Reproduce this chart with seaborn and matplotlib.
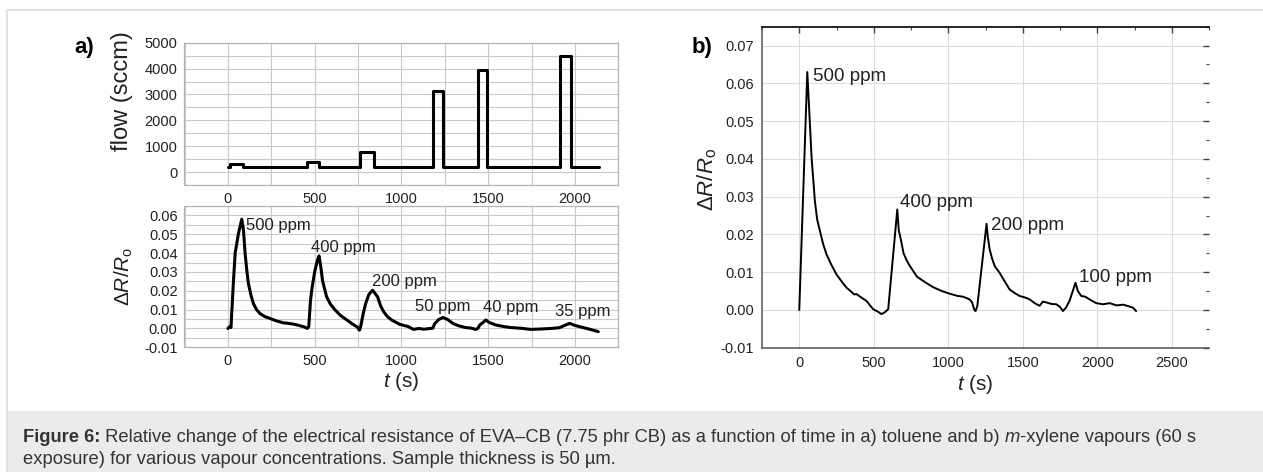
import matplotlib
matplotlib.use("Agg")
import matplotlib.pyplot as plt
from matplotlib.ticker import MultipleLocator, FormatStrFormatter
from matplotlib.lines import Line2D
from matplotlib.patches import Rectangle
import pandas as pd
import seaborn as sns

flow_t = [0, 12, 87, 457, 527, 763, 840, 1182, 1241, 1441, 1495, 1912, 1975, 2140]
flow_sccm = [200, 330, 200, 390, 200, 780, 200, 3140, 200, 3930, 200, 4500, 200, 200]

# toluene response, panel a bottom
tol_t = [0, 8, 18, 22, 32, 42, 60, 80, 90, 99, 110, 118, 132, 147, 165, 185, 215, 243,
         280, 320, 350, 378, 410, 440, 458, 466, 476, 484, 500, 515, 525, 535, 545, 557,
         569, 590, 616, 650, 687, 720, 745, 758, 765, 780, 793, 812, 833, 845, 863, 880,
         898, 920, 945, 990, 1039, 1069, 1100, 1130, 1165, 1180, 1192, 1215, 1240, 1265,
         1298, 1330, 1369, 1400, 1428, 1440, 1451, 1470, 1486, 1505, 1545, 1590, 1627,
         1690, 1745, 1800, 1863, 1910, 1940, 1969, 2000, 2028, 2080, 2134]
tol_dr = [0.0, 0.0008, 0.0005, 0.008, 0.025, 0.040, 0.050, 0.058, 0.052, 0.040, 0.030,
          0.024, 0.018, 0.0132, 0.010, 0.0079, 0.0062, 0.0053, 0.0040, 0.0030, 0.0027,
          0.0023, 0.0016, 0.0008, 0.0, 0.0010, 0.015, 0.021, 0.030, 0.036, 0.0385, 0.033,
          0.0256, 0.021, 0.0168, 0.013, 0.010, 0.0068, 0.0044, 0.0022, 0.0008, -0.0009,
          0.001, 0.008, 0.013, 0.018, 0.0203, 0.019, 0.0167, 0.012, 0.0088, 0.0062, 0.0044,
          0.0022, 0.0010, -0.0005, 0.0, -0.0004, 0.0, 0.0001, 0.0026, 0.0048, 0.0058,
          0.0048, 0.0026, 0.0014, 0.0005, 0.0002, -0.0005, 0.0, 0.0018, 0.0032, 0.0045,
          0.0032, 0.0018, 0.0010, 0.0005, 0.0001, -0.0005, -0.0003, 0.0, 0.0004, 0.0016,
          0.0027, 0.0016, 0.0009, -0.0003, -0.0017]
tol_labels = ["500 ppm", "400 ppm", "200 ppm", "50 ppm", "40 ppm", "35 ppm"]
tol_label_t = [105, 480, 829, 1079, 1469, 1882]
tol_label_dr = [0.0547, 0.0432, 0.0250, 0.0118, 0.0111, 0.0088]

# m-xylene response, panel b
xyl_t = [0, 54, 68, 83, 95, 105, 120, 139, 160, 183, 215, 250, 285, 317, 350, 370, 384,
         420, 451, 475, 496, 525, 552, 575, 597, 658, 668, 677, 700, 720, 743, 790, 850,
         900, 957, 1010, 1063, 1100, 1143, 1160, 1175, 1183, 1195, 1257, 1265, 1278, 1295,
         1312, 1345, 1380, 1412, 1445, 1479, 1515, 1546, 1580, 1613, 1635, 1658, 1690,
         1725, 1750, 1770, 1790, 1814, 1840, 1854, 1870, 1892, 1920, 1948, 1993, 2040,
         2083, 2130, 2175, 2208, 2240, 2261]
xyl_dr = [0.0, 0.0630, 0.052, 0.0402, 0.034, 0.0288, 0.024, 0.0209, 0.0175, 0.0147,
          0.012, 0.0094, 0.0075, 0.0059, 0.0048, 0.0041, 0.0042, 0.0032, 0.0024, 0.0012,
          0.0002, -0.0004, -0.0011, -0.0006, 0.0002, 0.0266, 0.021, 0.0196, 0.015, 0.0132,
          0.0116, 0.0088, 0.0072, 0.0060, 0.0050, 0.0043, 0.0037, 0.0035, 0.0028, 0.0020,
          0.0, -0.0003, 0.0010, 0.0228, 0.0195, 0.0160, 0.0135, 0.0116, 0.0098, 0.0075,
          0.0054, 0.0045, 0.0037, 0.0033, 0.0028, 0.0018, 0.0011, 0.0022, 0.0020, 0.0016,
          0.0015, 0.0008, -0.0003, 0.0006, 0.0024, 0.0055, 0.0072, 0.0050, 0.0037, 0.0035,
          0.0028, 0.0018, 0.0015, 0.0018, 0.0012, 0.0014, 0.0010, 0.0006, -0.0003]
xyl_labels = ["500 ppm", "400 ppm", "200 ppm", "100 ppm"]
xyl_label_t = [94, 676, 1289, 1875]
xyl_label_dr = [0.0618, 0.0284, 0.0224, 0.0087]

caption_1 = [("Figure 6:", "bold", "normal"),
             (" Relative change of the electrical resistance of EVA\u2013CB (7.75 phr CB) as a "
              "function of time in a) toluene and b) ", "normal", "normal"),
             ("m", "normal", "italic"),
             ("-xylene vapours (60 s", "normal", "normal")]
caption_2 = "exposure) for various vapour concentrations. Sample thickness is 50 \u00b5m."

sns.set_theme(style="white")
FONT = "Liberation Sans"
plt.rcParams["font.family"] = [FONT, "DejaVu Sans"]
plt.rcParams["mathtext.fontset"] = "custom"
plt.rcParams["mathtext.rm"] = FONT
plt.rcParams["mathtext.it"] = FONT + ":italic"
plt.rcParams["mathtext.bf"] = FONT + ":bold"

W, H = 1263, 472
TXT = "#222222"
DR_LABEL = r"$\Delta \mathit{R}/\mathit{R}_{\mathrm{o}}$"
T_LABEL = r"$\mathit{t}$ (s)"


def box(l, t, r, b):
    return [l / W, 1 - b / H, (r - l) / W, (b - t) / H]


fig = plt.figure(figsize=(W / 100, H / 100), dpi=100)

# frame and caption strip
fig.add_artist(Rectangle((7 / W, 0), 1, (H - 411) / H, transform=fig.transFigure,
                         facecolor="#ebebeb", edgecolor="none"))
fig.add_artist(Line2D([7 / W, 1], [1 - 10 / H] * 2, color="#e2e2e2", lw=1.5))
fig.add_artist(Line2D([7 / W] * 2, [0, 1 - 10 / H], color="#e2e2e2", lw=1.5))


def style_a(ax):
    ax.xaxis.set_major_locator(MultipleLocator(500))
    ax.xaxis.set_minor_locator(MultipleLocator(250))
    ax.grid(which="both", color="#c9c9c9", lw=0.8)
    ax.tick_params(which="both", length=0, labelsize=10.5, colors=TXT, pad=5)
    for s in ax.spines.values():
        s.set_color("#b5b5b5")
        s.set_linewidth(0.9)
    ax.set_xlim(-250, 2250)


# a) flow
ax1 = fig.add_axes(box(184.5, 42.7, 618.4, 185))
flow_df = pd.DataFrame({"t": flow_t, "flow": flow_sccm})
sns.lineplot(data=flow_df, x="t", y="flow", ax=ax1, color="black", lw=2.2,
             drawstyle="steps-post", estimator=None)
style_a(ax1)
ax1.set_ylim(-500, 5000)
ax1.yaxis.set_major_locator(MultipleLocator(1000))
ax1.yaxis.set_minor_locator(MultipleLocator(500))
ax1.set_xlabel("")
ax1.set_ylabel("flow (sccm)", fontsize=17, color=TXT)
ax1.yaxis.label.set_va("center")
ax1.yaxis.set_label_coords(-0.144, 0.66)

# a) response
ax2 = fig.add_axes(box(184.5, 206, 618.4, 347.3))
tol_df = pd.DataFrame({"t": tol_t, "dr": tol_dr})
sns.lineplot(data=tol_df, x="t", y="dr", ax=ax2, color="black", lw=2.2, estimator=None)
style_a(ax2)
ax2.set_ylim(-0.01, 0.065)
ax2.yaxis.set_major_locator(MultipleLocator(0.01))
ax2.yaxis.set_minor_locator(MultipleLocator(0.005))
ax2.yaxis.set_major_formatter(FormatStrFormatter("%.2f"))
ax2.set_xlabel(T_LABEL, fontsize=15, color=TXT)
ax2.xaxis.label.set_va("center")
ax2.xaxis.set_label_coords(0.499, -0.243)
ax2.set_ylabel(DR_LABEL, fontsize=15, color=TXT)
ax2.yaxis.label.set_va("center")
ax2.yaxis.set_label_coords(-0.139, 0.5)
for lab, x, y in zip(tol_labels, tol_label_t, tol_label_dr):
    ax2.text(x, y, lab, fontsize=12, color=TXT, ha="left", va="center")

fig.text(84 / W, 1 - 47 / H, "a)", fontsize=16, weight="bold", color="black",
         ha="center", va="center")

# b) m-xylene
ax3 = fig.add_axes(box(762, 26.7, 1209, 347.7))
xyl_df = pd.DataFrame({"t": xyl_t, "dr": xyl_dr})
sns.lineplot(data=xyl_df, x="t", y="dr", ax=ax3, color="black", lw=1.4, estimator=None)
ax3.set_xlim(-250, 2750)
ax3.set_ylim(-0.01, 0.075)
ax3.xaxis.set_major_locator(MultipleLocator(500))
ax3.xaxis.set_minor_locator(MultipleLocator(250))
ax3.yaxis.set_major_locator(MultipleLocator(0.01))
ax3.yaxis.set_minor_locator(MultipleLocator(0.005))
ax3.yaxis.set_major_formatter(FormatStrFormatter("%.2f"))
ax3.grid(which="major", color="#dcdcdc", lw=0.8)
ax3.tick_params(which="both", direction="in", top=True, right=True, colors="#444444",
                labelcolor=TXT, labelsize=10.5, pad=6)
ax3.tick_params(which="major", length=4, width=1)
ax3.tick_params(which="minor", length=2.5, width=0.8)
ax3.spines["top"].set_color("black")
ax3.spines["top"].set_linewidth(1.2)
for s in ("left", "bottom"):
    ax3.spines[s].set_color("#555555")
    ax3.spines[s].set_linewidth(1.1)
ax3.spines["right"].set_visible(False)
ax3.set_xlabel(T_LABEL, fontsize=15, color=TXT)
ax3.xaxis.label.set_va("center")
ax3.xaxis.set_label_coords(0.478, -0.116)
ax3.set_ylabel(DR_LABEL, fontsize=16, color=TXT)
ax3.yaxis.label.set_va("center")
ax3.yaxis.set_label_coords(-0.122, 0.525)
for lab, x, y in zip(xyl_labels, xyl_label_t, xyl_label_dr):
    ax3.text(x, y, lab, fontsize=13.5, color=TXT, ha="left", va="center")

fig.text(702 / W, 1 - 47 / H, "b)", fontsize=16, weight="bold", color="black",
         ha="center", va="center")

# caption, drawn piece by piece so the bold / italic parts line up
renderer = fig.canvas.get_renderer()
x_px = 23
for txt, wt, st in caption_1:
    t = fig.text(x_px / W, 1 - 437 / H, txt, fontsize=13.2, weight=wt, style=st,
                 color="#333333", ha="left", va="center")
    x_px += t.get_window_extent(renderer).width
fig.text(23 / W, 1 - 460 / H, caption_2, fontsize=13.2, color="#333333",
         ha="left", va="center")

fig.savefig("out.png", dpi=100)
